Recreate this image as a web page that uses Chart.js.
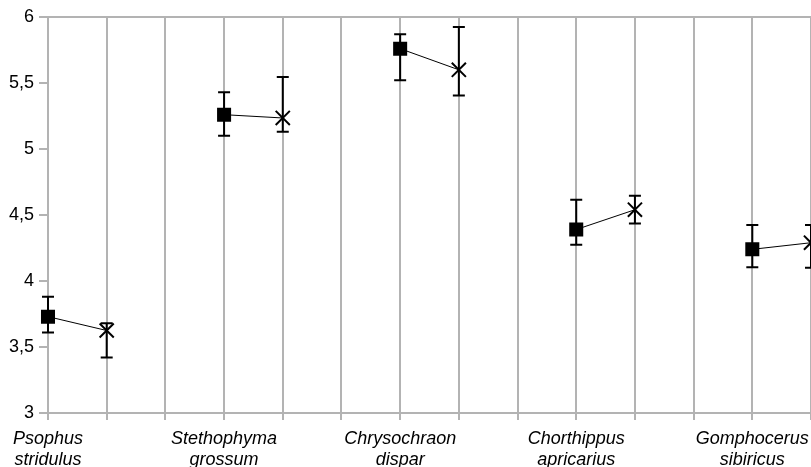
<!DOCTYPE html>
<html>
<head>
<meta charset="utf-8">
<script src="https://cdn.jsdelivr.net/npm/chart.js@4/dist/chart.umd.min.js"></script>
<style>
  html, body { margin: 0; padding: 0; background: #fff; }
</style>
</head>
<body>
<canvas id="chart" width="811" height="467"></canvas>
<script>
// species names (two lines each)
const species = [
    ['Psophus', 'stridulus'],
    ['Stethophyma', 'grossum'],
    ['Chrysochraon', 'dispar'],
    ['Chorthippus', 'apricarius'],
    ['Gomphocerus', 'sibiricus']
];

// first group (square marker) - mean and error range
const meanA = [3.73, 5.26, 5.76, 4.39, 4.24];
const lowA  = [3.61, 5.10, 5.52, 4.275, 4.105];
const highA = [3.88, 5.43, 5.87, 4.615, 4.425];

// second group (cross marker)
const meanB = [3.625, 5.235, 5.60, 4.54, 4.29];
const lowB  = [3.42, 5.13, 5.405, 4.435, 4.10];
const highB = [3.68, 5.545, 5.925, 4.645, 4.425];

const yTicks = [3, 3.5, 4, 4.5, 5, 5.5, 6];

// 3 slots per species: square, cross, empty -> 14 slots (last empty one dropped)
const labels = [], values = [], lows = [], highs = [], styles = [], radii = [];
species.forEach((name, i) => {
    labels.push(name, '', '');
    values.push(meanA[i], meanB[i], null);
    lows.push(lowA[i], lowB[i], null);
    highs.push(highA[i], highB[i], null);
    styles.push('rect', 'crossRot', 'rect');
    radii.push(8.5, 10, 0);
});
labels.length = 14; values.length = 14; lows.length = 14; highs.length = 14;

const gridGray = '#b3b3b3';
const font = 'Liberation Sans';

// error bars, drawn under the markers
const errorBars = {
    id: 'errorBars',
    beforeDatasetsDraw(chart) {
        const x = chart.scales.x, y = chart.scales.y, ctx = chart.ctx;
        ctx.save();
        ctx.strokeStyle = '#000';
        ctx.lineWidth = 2;
        values.forEach((v, i) => {
            if (v === null || v === undefined) return;
            const px = x.getPixelForValue(i);
            const top = y.getPixelForValue(highs[i]);
            const bot = y.getPixelForValue(lows[i]);
            ctx.beginPath();
            ctx.moveTo(px, top); ctx.lineTo(px, bot);
            ctx.moveTo(px - 6, top); ctx.lineTo(px + 6, top);
            ctx.moveTo(px - 6, bot); ctx.lineTo(px + 6, bot);
            ctx.stroke();
        });
        ctx.restore();
    }
};

new Chart(document.getElementById('chart'), {
    type: 'line',
    data: {
        labels: labels,
        datasets: [{
            data: values,
            borderColor: '#000',
            borderWidth: 1,
            backgroundColor: '#000',
            pointBackgroundColor: '#000',
            pointBorderColor: '#000',
            pointBorderWidth: 2,
            pointStyle: styles,
            pointRadius: radii,
            spanGaps: false,
            clip: false
        }]
    },
    options: {
        responsive: false,
        animation: false,
        layout: { autoPadding: false, padding: { top: 17, left: 0, right: 0, bottom: 0 } },
        plugins: { legend: { display: false }, tooltip: { enabled: false } },
        scales: {
            x: {
                offset: false,
                grid: { color: gridGray, lineWidth: 2, tickLength: 7, offset: false },
                border: { color: gridGray, width: 2 },
                ticks: {
                    autoSkip: false, maxRotation: 0, minRotation: 0, padding: 8,
                    color: '#000',
                    font: { family: font, size: 18, style: 'italic', lineHeight: '21px' }
                },
                afterFit(scale) {
                    scale.height = 54;
                    scale.paddingLeft = 0;
                    scale.paddingRight = 0;
                }
            },
            y: {
                min: 3, max: 6,
                afterBuildTicks(scale) { scale.ticks = yTicks.map(v => ({ value: v })); },
                grid: {
                    color: c => (c.tick && c.tick.value === 6) ? gridGray : 'rgba(0,0,0,0)',
                    tickColor: gridGray, lineWidth: 2, tickLength: 9
                },
                border: { color: gridGray, width: 2 },
                ticks: {
                    padding: 5, color: '#000',
                    font: { family: font, size: 18 },
                    callback: v => String(v).replace('.', ',')
                },
                afterFit(scale) { scale.width = 48; }
            }
        }
    },
    plugins: [errorBars]
});
</script>
</body>
</html>
